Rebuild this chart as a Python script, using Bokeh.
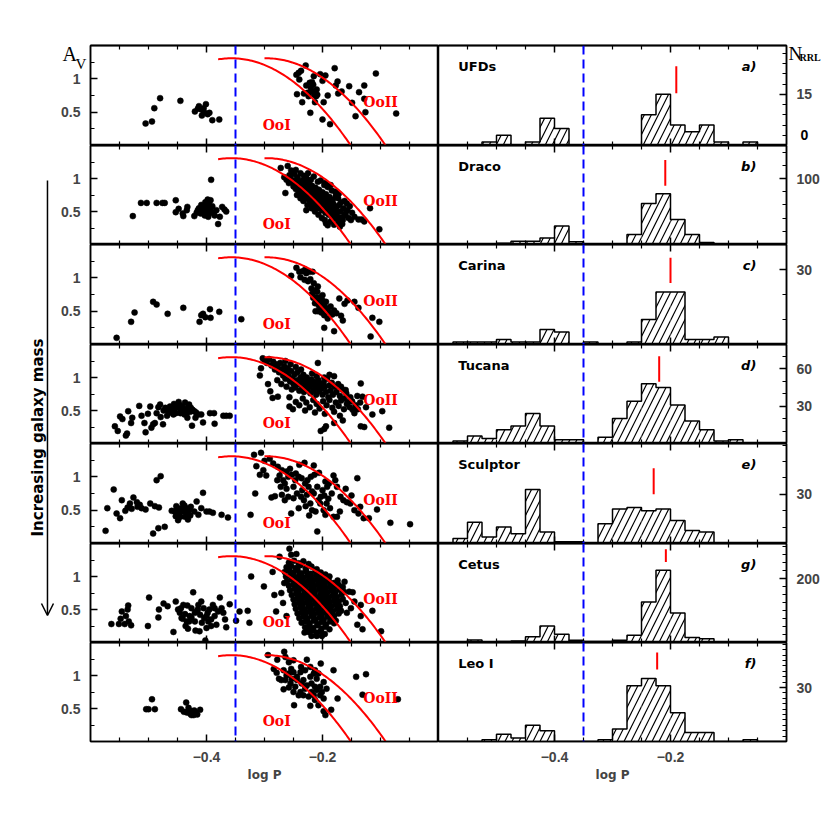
import numpy as np
from bokeh.plotting import figure
from bokeh.models import (Range1d, LinearAxis, FixedTicker, CustomJSTickFormatter,
                          Label, Span, Arrow, OpenHead)
from bokeh.layouts import row, column
from bokeh.embed import file_html
from bokeh.resources import INLINE

# ---------------- data ----------------
GALAXIES = ["UFDs", "Draco", "Carina", "Tucana", "Sculptor", "Cetus", "Leo I"]
PANEL_TAGS = ["a)", "b)", "c)", "d)", "e)", "g)", "f)"]

# (log P, A_V) pairs
ufd_pts = [(-0.505,0.33),(-0.494,0.36),(-0.49,0.56),(-0.48,0.71),(-0.445,0.67),(-0.42,0.51),(-0.415,0.55),
    (-0.413,0.59),(-0.409,0.54),(-0.405,0.56),(-0.404,0.50),(-0.401,0.62),(-0.408,0.45),(-0.398,0.47),(-0.395,0.49),
    (-0.39,0.38),(-0.378,0.39),
    (-0.244,0.77),(-0.245,1.06),(-0.241,1.09),(-0.237,1.12),(-0.229,1.2),(-0.24,0.99),(-0.235,0.65),(-0.232,0.78),
    (-0.226,0.79),(-0.222,0.94),(-0.22,0.86),(-0.218,0.81),(-0.215,1.04),(-0.216,0.91),(-0.214,0.76),(-0.221,0.49),
    (-0.211,0.74),(-0.209,0.76),(-0.213,0.65),(-0.204,1.07),(-0.2,0.97),(-0.195,1.05),(-0.198,0.65),(-0.2,0.39),
    (-0.191,0.75),(-0.187,0.32),(-0.179,1.16),(-0.177,0.9),(-0.174,0.96),(-0.173,0.78),(-0.167,0.81),(-0.154,0.89),
    (-0.149,0.64),(-0.143,0.44),(-0.137,0.8),(-0.128,0.9),(-0.128,0.7),(-0.126,0.5),(-0.108,1.08),(-0.073,0.48),
    (-0.218,0.95),(-0.21,0.84),(-0.228,0.9),(-0.224,0.74)]

dra_pts = [(-0.527,0.43),(-0.513,0.63),(-0.503,0.63),(-0.486,0.63),(-0.476,0.63),(-0.472,0.63),(-0.453,0.67),
    (-0.453,0.49),(-0.448,0.54),(-0.441,0.47),(-0.440,0.43),(-0.433,0.57),(-0.434,0.52),(-0.421,0.43),(-0.417,0.48),
    (-0.413,0.55),(-0.410,0.47),(-0.407,0.52),(-0.404,0.58),(-0.402,0.64),(-0.398,0.68),(-0.396,0.62),(-0.394,0.54),
    (-0.400,0.49),(-0.403,0.44),(-0.397,0.42),(-0.392,0.98),(-0.390,0.58),(-0.389,0.49),(-0.386,0.44),(-0.383,0.52),
    (-0.380,0.31),(-0.377,0.42),(-0.373,0.57),(-0.369,0.53),(-0.366,0.50),(-0.393,0.67),(-0.409,0.60),(-0.415,0.52),
    (-0.400,0.56),(-0.395,0.47),
    (-0.272,1.16),(-0.260,1.19),(-0.254,1.12),(-0.264,0.78),(-0.257,1.05),(-0.266,1.02),(-0.249,1.07),(-0.243,1.02),
    (-0.246,1.13),(-0.238,1.08),(-0.232,1.04),(-0.228,1.01),(-0.225,1.08),(-0.220,0.98),(-0.215,1.03),(-0.208,0.95),
    (-0.203,0.97),(-0.197,0.90),(-0.191,0.87),(-0.184,0.82),(-0.177,0.74),(-0.172,0.77),(-0.168,0.64),(-0.162,0.66),
    (-0.157,0.52),(-0.151,0.37),(-0.145,0.42),(-0.138,0.38),(-0.133,0.38),(-0.128,0.35),(-0.118,0.55),(-0.102,0.23),
    (-0.170,0.27),(-0.165,0.37),(-0.162,0.44),(-0.191,0.29),(-0.194,0.32),(-0.186,0.35),(-0.180,0.30),(-0.228,0.52),
    (-0.220,0.62),
    (-0.262,0.98),(-0.258,0.93),(-0.255,1.00),(-0.252,0.95),(-0.250,0.88),(-0.248,0.97),(-0.246,0.84),(-0.245,0.92),
    (-0.243,0.99),(-0.242,0.87),(-0.240,0.80),(-0.239,0.94),(-0.237,0.90),(-0.236,0.83),(-0.235,0.76),(-0.234,0.97),
    (-0.232,0.91),(-0.231,0.85),(-0.230,0.79),(-0.229,0.72),(-0.228,0.94),(-0.227,0.88),(-0.226,0.82),(-0.225,0.75),
    (-0.224,0.68),(-0.223,0.92),(-0.222,0.85),(-0.221,0.79),(-0.220,0.72),(-0.219,0.66),(-0.218,0.89),(-0.217,0.83),
    (-0.216,0.77),(-0.215,0.70),(-0.214,0.63),(-0.213,0.58),(-0.212,0.86),(-0.211,0.80),(-0.210,0.74),(-0.209,0.67),
    (-0.208,0.61),(-0.207,0.55),(-0.206,0.83),(-0.205,0.77),(-0.204,0.71),(-0.203,0.65),(-0.202,0.59),(-0.201,0.52),
    (-0.200,0.79),(-0.199,0.73),(-0.198,0.67),(-0.197,0.61),(-0.196,0.55),(-0.195,0.48),(-0.194,0.76),(-0.193,0.70),
    (-0.192,0.64),(-0.191,0.57),(-0.190,0.51),(-0.189,0.45),(-0.188,0.72),(-0.187,0.66),(-0.186,0.60),(-0.185,0.54),
    (-0.184,0.47),(-0.183,0.41),(-0.182,0.68),(-0.181,0.61),(-0.180,0.53),(-0.179,0.45),(-0.178,0.39),(-0.176,0.57),
    (-0.175,0.49),(-0.174,0.42),(-0.172,0.34),(-0.171,0.60),(-0.169,0.50),(-0.167,0.41),(-0.166,0.31),(-0.164,0.55),
    (-0.160,0.47),(-0.158,0.62),(-0.155,0.40),(-0.153,0.58),(-0.149,0.48),(-0.244,0.75),(-0.238,0.70),(-0.233,0.66),
    (-0.226,0.60),(-0.219,0.55),(-0.213,0.50),(-0.207,0.45),(-0.201,0.40),(-0.196,0.37),(-0.186,0.90),(-0.195,0.93),
    (-0.178,0.80),(-0.173,0.70)]

car_pts = [(-0.555,0.10),(-0.530,0.34),(-0.524,0.48),(-0.492,0.64),(-0.486,0.60),(-0.467,0.46),(-0.440,0.55),
    (-0.412,0.34),(-0.409,0.44),(-0.406,0.46),(-0.402,0.41),(-0.394,0.53),(-0.393,0.40),(-0.378,0.49),(-0.340,0.38),
    (-0.254,1.03),(-0.245,1.15),(-0.240,1.09),(-0.234,1.10),(-0.228,1.07),(-0.223,1.09),(-0.217,1.09),(-0.225,0.95),
    (-0.238,1.01),(-0.219,0.84),(-0.214,0.81),(-0.209,0.79),(-0.211,0.71),(-0.207,0.68),(-0.205,0.64),(-0.203,0.71),
    (-0.200,0.66),(-0.197,0.59),(-0.194,0.64),(-0.191,0.54),(-0.203,0.56),(-0.208,0.50),(-0.212,0.50),(-0.197,0.44),
    (-0.191,0.39),(-0.180,0.51),(-0.183,0.45),(-0.171,0.69),(-0.162,0.61),(-0.157,0.66),(-0.145,0.64),(-0.138,0.55),
    (-0.168,0.43),(-0.165,0.36),(-0.197,0.25),(-0.180,0.20),(-0.114,0.40),(-0.102,0.34),(-0.117,0.12),(-0.215,0.92),
    (-0.208,0.87),(-0.218,0.76),(-0.213,0.62),(-0.200,0.74),(-0.221,0.98),(-0.230,1.12),(-0.206,0.58),(-0.199,0.52),
    (-0.188,0.48),(-0.186,0.57),(-0.176,0.47),(-0.231,0.97),(-0.216,0.70),(-0.210,0.62),(-0.202,0.48)]

tuc_pts = [(-0.558,0.26),(-0.553,0.19),(-0.549,0.41),(-0.545,0.37),(-0.539,0.12),(-0.537,0.15),(-0.535,0.49),
    (-0.528,0.39),(-0.516,0.57),(-0.507,0.31),(-0.505,0.17),(-0.501,0.45),(-0.497,0.56),(-0.495,0.24),(-0.492,0.29),
    (-0.489,0.31),(-0.486,0.46),(-0.483,0.55),(-0.480,0.59),(-0.479,0.40),(-0.475,0.29),(-0.471,0.54),(-0.466,0.49),
    (-0.463,0.56),(-0.460,0.52),(-0.456,0.60),(-0.453,0.46),(-0.450,0.54),(-0.448,0.63),(-0.444,0.49),(-0.442,0.56),
    (-0.438,0.44),(-0.436,0.51),(-0.433,0.39),(-0.430,0.59),(-0.427,0.54),(-0.425,0.27),(-0.421,0.49),(-0.419,0.39),
    (-0.414,0.44),(-0.409,0.44),(-0.406,0.32),(-0.394,0.46),(-0.387,0.46),(-0.386,0.30),(-0.371,0.42),(-0.366,0.42),
    (-0.360,0.42),(-0.461,0.47),(-0.457,0.44),(-0.451,0.57),(-0.440,0.52),(-0.434,0.46),(-0.445,0.46),(-0.428,0.48),
    (-0.455,0.53),(-0.468,0.42),(-0.530,0.31),(-0.512,0.42),(-0.474,0.50),(-0.446,0.58),(-0.432,0.55),(-0.424,0.51),
    (-0.418,0.47),(-0.437,0.62),
    (-0.300,1.26),(-0.296,1.22),(-0.292,1.28),(-0.288,1.18),(-0.285,1.24),(-0.282,1.12),(-0.280,1.20),(-0.277,1.15),
    (-0.275,1.08),(-0.273,1.22),(-0.270,1.12),(-0.268,1.03),(-0.266,1.17),(-0.264,0.98),(-0.262,1.08),(-0.260,1.14),
    (-0.258,1.02),(-0.256,0.94),(-0.254,1.10),(-0.252,0.98),(-0.250,0.90),(-0.248,1.05),(-0.247,0.85),(-0.245,0.96),
    (-0.243,1.08),(-0.241,0.90),(-0.240,0.80),(-0.238,1.00),(-0.236,0.93),(-0.235,0.85),(-0.233,1.04),(-0.232,0.78),
    (-0.230,0.96),(-0.229,0.88),(-0.227,1.00),(-0.226,0.82),(-0.224,0.92),(-0.222,0.86),(-0.221,0.76),(-0.219,0.97),
    (-0.217,0.89),(-0.216,0.80),(-0.214,0.93),(-0.212,0.84),(-0.211,0.74),(-0.209,0.88),(-0.207,0.96),(-0.206,0.79),
    (-0.204,0.90),(-0.202,0.83),(-0.200,0.74),(-0.198,0.92),(-0.196,0.86),(-0.194,0.78),(-0.192,0.98),(-0.190,0.70),
    (-0.188,0.88),(-0.186,0.80),(-0.184,0.92),(-0.182,0.74),(-0.179,0.86),(-0.176,0.78),(-0.173,0.90),(-0.170,0.72),
    (-0.166,0.82),(-0.163,0.68),(-0.159,0.76),(-0.156,0.63),(-0.152,0.70),(-0.264,1.25),(-0.255,1.20),(-0.246,1.16),
    (-0.237,1.12),(-0.218,1.06),(-0.210,1.02),(-0.197,1.00),(-0.278,0.96),(-0.271,0.90),(-0.262,0.86),(-0.253,0.82),
    (-0.246,0.63),(-0.240,0.58),(-0.234,0.68),(-0.228,0.62),(-0.222,0.55),(-0.216,0.66),(-0.210,0.60),(-0.205,0.53),
    (-0.199,0.64),(-0.193,0.58),(-0.188,0.66),(-0.183,0.54),(-0.177,0.62),(-0.172,0.57),(-0.168,0.65),(-0.163,0.52),
    (-0.158,0.60),(-0.153,0.55),(-0.149,0.64),(-0.143,0.58),(-0.139,0.52),(-0.135,0.62),(-0.230,0.50),(-0.213,0.47),
    (-0.196,0.45),(-0.180,0.48),(-0.170,0.42),(-0.257,0.70),(-0.251,0.52),
    (-0.308,1.03),(-0.306,1.14),(-0.303,1.29),(-0.294,0.90),(-0.290,0.79),(-0.286,0.69),(-0.277,0.71),(-0.257,0.56),
    (-0.145,0.46),(-0.134,0.91),(-0.131,0.71),(-0.134,0.26),(-0.128,0.25),(-0.114,0.44),(-0.097,0.49),(-0.085,0.24),
    (-0.203,0.19),(-0.197,0.22),(-0.194,0.26),(-0.180,0.31),(-0.165,0.35),(-0.208,1.22),(-0.188,1.04),(-0.180,1.02),
    (-0.168,0.86),(-0.160,0.81),(-0.148,0.51),(-0.125,0.55),(-0.140,0.72)]

scl_pts = [(-0.574,0.19),(-0.571,0.53),(-0.560,0.81),(-0.555,0.45),(-0.549,0.38),(-0.546,0.65),(-0.536,0.54),
    (-0.532,0.60),(-0.529,0.52),(-0.526,0.69),(-0.519,0.55),(-0.515,0.58),(-0.512,0.53),(-0.497,0.60),(-0.492,0.15),
    (-0.489,0.56),(-0.486,0.95),(-0.483,0.23),(-0.482,0.54),(-0.479,1.01),(-0.472,0.25),(-0.460,0.49),(-0.455,0.48),
    (-0.453,0.41),(-0.450,0.53),(-0.449,0.35),(-0.447,0.45),(-0.444,0.50),(-0.441,0.60),(-0.439,0.48),(-0.437,0.40),
    (-0.435,0.53),(-0.433,0.45),(-0.430,0.50),(-0.427,0.55),(-0.421,0.48),(-0.417,0.63),(-0.414,0.43),(-0.409,0.53),
    (-0.406,0.76),(-0.400,0.48),(-0.395,0.48),(-0.389,0.46),(-0.374,0.43),(-0.363,0.39),(-0.452,0.56),(-0.445,0.40),
    (-0.438,0.57),(-0.428,0.42),(-0.443,0.53),(-0.432,0.36),(-0.520,0.62),(-0.540,0.49),(-0.505,0.51),
    (-0.324,0.43),(-0.316,0.75),(-0.318,1.33),(-0.306,1.36),(-0.314,1.16),(-0.308,1.03),(-0.302,1.10),(-0.297,1.02),
    (-0.288,0.69),(-0.282,0.71),(-0.278,0.95),(-0.274,1.02),(-0.268,0.95),(-0.265,0.90),(-0.259,1.00),(-0.253,1.03),
    (-0.250,0.85),(-0.247,0.95),(-0.241,1.00),(-0.235,0.80),(-0.230,0.90),(-0.224,0.85),(-0.218,0.78),(-0.215,0.75),
    (-0.207,0.65),(-0.204,0.60),(-0.198,0.50),(-0.195,0.43),(-0.192,0.85),(-0.189,0.90),(-0.181,1.02),(-0.175,0.85),
    (-0.169,0.70),(-0.164,0.65),(-0.158,0.62),(-0.152,0.60),(-0.140,0.98),(-0.135,0.55),(-0.129,0.38),(-0.120,0.38),
    (-0.106,0.51),(-0.083,0.31),(-0.049,0.29),(-0.209,0.18),(-0.259,0.70),(-0.265,0.65),(-0.270,0.73),(-0.250,0.68),
    (-0.241,0.53),(-0.254,0.45),(-0.232,0.65),(-0.227,0.73),(-0.221,0.60),(-0.218,0.50),(-0.212,0.48),(-0.193,0.60),
    (-0.187,0.53),(-0.181,0.40),(-0.175,0.40),(-0.170,0.48),(-0.240,1.18),(-0.231,1.21),(-0.215,1.17),(-0.214,1.03),
    (-0.206,1.06),(-0.195,0.93),(-0.300,1.24),(-0.291,1.27),(-0.285,1.20),(-0.277,1.15),(-0.270,1.10),(-0.262,1.08),
    (-0.256,1.12),(-0.246,1.05),(-0.236,0.98),(-0.226,0.95),(-0.220,1.00),(-0.209,0.85),(-0.200,0.80),(-0.184,0.75),
    (-0.178,0.95),(-0.160,0.82),(-0.150,0.72),(-0.145,0.50),(-0.138,0.45),(-0.244,0.75),(-0.237,0.70),(-0.229,0.56),
    (-0.223,0.42),(-0.203,0.70),(-0.197,0.72),(-0.190,0.67),(-0.262,0.82),(-0.272,0.85)]

cet_pts = [(-0.564,0.28),(-0.551,0.28),(-0.548,0.36),(-0.546,0.47),(-0.541,0.28),(-0.539,0.40),(-0.536,0.50),
    (-0.535,0.56),(-0.534,0.32),(-0.530,0.26),(-0.501,0.25),(-0.499,0.68),(-0.483,0.38),(-0.482,0.50),(-0.474,0.59),
    (-0.467,0.55),(-0.457,0.16),(-0.453,0.62),(-0.449,0.50),(-0.446,0.45),(-0.443,0.37),(-0.440,0.57),(-0.437,0.43),
    (-0.434,0.32),(-0.432,0.21),(-0.429,0.40),(-0.426,0.52),(-0.423,0.76),(-0.420,0.32),(-0.419,0.18),(-0.417,0.47),
    (-0.414,0.57),(-0.411,0.42),(-0.408,0.30),(-0.405,0.52),(-0.404,0.37),(-0.402,0.03),(-0.400,0.22),(-0.398,0.45),
    (-0.395,0.50),(-0.392,0.35),(-0.389,0.57),(-0.386,0.40),(-0.383,0.27),(-0.380,0.47),(-0.377,0.68),(-0.374,0.52),
    (-0.371,0.45),(-0.368,0.35),(-0.366,0.23),(-0.360,0.58),(-0.441,0.36),(-0.436,0.25),(-0.430,0.32),(-0.420,0.45),
    (-0.412,0.17),(-0.400,0.40),(-0.392,0.25),(-0.415,0.50),(-0.426,0.38),(-0.409,0.62),(-0.397,0.32),(-0.386,0.52),
    (-0.444,0.52),(-0.433,0.56),(-0.349,0.33),(-0.343,0.47),(-0.329,0.48),(-0.326,0.30),(-0.323,1.00),(-0.301,0.85),
    (-0.280,0.47),
    (-0.258,1.21),(-0.249,1.24),(-0.241,1.20),(-0.233,1.23),(-0.224,1.19),
    (-0.262,1.14),(-0.254,1.16),(-0.246,1.13),(-0.238,1.17),(-0.229,1.12),(-0.219,1.15),(-0.210,1.11),
    (-0.265,1.07),(-0.257,1.09),(-0.250,1.06),(-0.243,1.10),(-0.236,1.05),(-0.228,1.08),(-0.220,1.04),(-0.212,1.09),
    (-0.203,1.06),(-0.195,1.03),
    (-0.263,1.00),(-0.255,1.02),(-0.247,0.99),(-0.240,1.03),(-0.233,0.98),(-0.226,1.01),(-0.219,0.97),(-0.211,1.02),
    (-0.204,0.99),(-0.196,0.96),(-0.188,1.00),
    (-0.261,0.93),(-0.253,0.95),(-0.245,0.92),(-0.238,0.96),(-0.231,0.91),(-0.224,0.94),(-0.217,0.90),(-0.210,0.95),
    (-0.203,0.92),(-0.196,0.89),(-0.189,0.93),(-0.181,0.90),(-0.174,0.94),
    (-0.258,0.86),(-0.250,0.88),(-0.243,0.85),(-0.236,0.89),(-0.229,0.84),(-0.222,0.87),(-0.215,0.83),(-0.208,0.88),
    (-0.201,0.85),(-0.194,0.82),(-0.187,0.86),(-0.180,0.83),(-0.172,0.87),(-0.165,0.84),
    (-0.256,0.79),(-0.248,0.81),(-0.241,0.78),(-0.234,0.82),(-0.227,0.77),(-0.220,0.80),(-0.213,0.76),(-0.206,0.81),
    (-0.199,0.78),(-0.192,0.75),(-0.185,0.79),(-0.178,0.76),(-0.170,0.80),(-0.163,0.77),
    (-0.253,0.72),(-0.245,0.74),(-0.238,0.71),(-0.231,0.75),(-0.224,0.70),(-0.217,0.73),(-0.210,0.69),(-0.203,0.74),
    (-0.196,0.71),(-0.189,0.68),(-0.182,0.72),(-0.175,0.69),(-0.167,0.73),
    (-0.250,0.65),(-0.243,0.67),(-0.236,0.64),(-0.229,0.68),(-0.222,0.63),(-0.215,0.66),(-0.208,0.62),(-0.201,0.67),
    (-0.194,0.64),(-0.187,0.61),(-0.180,0.65),(-0.172,0.62),(-0.165,0.66),
    (-0.248,0.58),(-0.241,0.60),(-0.234,0.57),(-0.227,0.61),(-0.220,0.56),(-0.213,0.59),(-0.206,0.55),(-0.199,0.60),
    (-0.192,0.57),(-0.185,0.54),(-0.178,0.58),(-0.170,0.55),
    (-0.246,0.51),(-0.238,0.53),(-0.231,0.50),(-0.224,0.54),(-0.217,0.49),(-0.210,0.52),(-0.203,0.48),(-0.196,0.53),
    (-0.189,0.50),(-0.182,0.47),(-0.175,0.51),(-0.168,0.48),
    (-0.243,0.44),(-0.236,0.46),(-0.229,0.43),(-0.222,0.47),(-0.215,0.42),(-0.208,0.45),(-0.201,0.41),(-0.194,0.46),
    (-0.187,0.43),(-0.180,0.40),(-0.172,0.44),
    (-0.240,0.37),(-0.233,0.39),(-0.226,0.36),(-0.219,0.40),(-0.212,0.35),(-0.205,0.38),(-0.198,0.34),(-0.191,0.39),
    (-0.184,0.36),(-0.177,0.33),
    (-0.236,0.30),(-0.229,0.32),(-0.222,0.29),(-0.215,0.33),(-0.208,0.28),(-0.201,0.31),(-0.194,0.27),(-0.187,0.32),
    (-0.180,0.29),
    (-0.230,0.23),(-0.223,0.25),(-0.216,0.22),(-0.209,0.26),(-0.202,0.21),(-0.195,0.24),(-0.188,0.20),
    (-0.224,0.16),(-0.217,0.18),(-0.210,0.15),(-0.203,0.17),(-0.196,0.13),
    (-0.286,1.07),(-0.274,1.30),(-0.257,1.42),(-0.254,1.33),(-0.245,1.34),(-0.271,0.75),(-0.266,0.90),(-0.162,0.92),
    (-0.154,0.77),(-0.148,0.76),(-0.151,0.52),(-0.134,0.57),(-0.131,0.20),(-0.114,0.48),(-0.099,0.17),(-0.134,0.40),
    (-0.140,0.27),(-0.225,0.20),(-0.219,0.10),(-0.210,0.10),(-0.201,0.10),(-0.231,0.15),(-0.283,0.72),(-0.160,0.60),
    (-0.158,0.45),(-0.145,0.62),(-0.268,0.60),(-0.262,0.40)]

leo_pts = [(-0.504,0.49),(-0.500,0.49),(-0.494,0.64),(-0.489,0.49),(-0.444,0.49),(-0.439,0.45),(-0.435,0.59),
    (-0.434,0.44),(-0.431,0.51),(-0.428,0.42),(-0.425,0.46),(-0.422,0.40),(-0.419,0.44),(-0.416,0.41),(-0.411,0.48),
    (-0.430,0.47),(-0.426,0.40),(-0.421,0.47),
    (-0.294,1.31),(-0.278,1.24),(-0.266,1.36),(-0.264,1.28),(-0.258,1.20),(-0.250,1.23),(-0.284,1.10),(-0.279,1.04),
    (-0.275,0.95),(-0.271,0.93),(-0.267,1.08),(-0.262,1.00),(-0.258,1.03),(-0.254,1.10),(-0.250,1.05),(-0.244,0.98),
    (-0.238,1.05),(-0.233,0.93),(-0.227,1.24),(-0.221,1.13),(-0.215,1.03),(-0.210,0.95),(-0.207,1.03),(-0.203,1.18),
    (-0.181,1.08),(-0.174,0.65),(-0.142,0.98),(-0.131,0.71),(-0.125,1.02),(-0.070,0.64),(-0.249,0.55),(-0.221,0.54),
    (-0.213,0.63),(-0.198,0.46),(-0.195,0.40),(-0.185,0.48),(-0.207,0.55),(-0.267,0.79),(-0.255,0.88),(-0.247,0.83),
    (-0.238,0.75),(-0.233,0.70),(-0.224,0.68),(-0.215,0.70),(-0.210,0.78),(-0.204,0.83),(-0.201,0.75),
    (-0.237,1.13),(-0.230,1.08),(-0.221,0.98),(-0.227,0.85),(-0.236,0.88),(-0.244,0.93),(-0.219,0.88),(-0.213,0.83),
    (-0.198,0.65),(-0.204,0.70),(-0.219,0.75),(-0.230,0.80),(-0.241,0.70),(-0.250,0.75),(-0.258,0.82),(-0.264,0.93),
    (-0.253,0.95),(-0.213,1.08),(-0.198,0.90),(-0.193,0.80)]

SCATTER = [ufd_pts, dra_pts, car_pts, tuc_pts, scl_pts, cet_pts, leo_pts]

# histogram counts, bins of 0.025 in log P from -0.6 to 0.0
BIN_WIDTH = 0.025
ufd_counts = [0,0,0,1,3,0,1,8,5,0,0,0,0,0,9,15,6,4,6,1,0,1,0,0]
dra_counts = [0,0,1,1,2,5,5,10,28,4,0,0,0,15,62,77,38,15,3,0,0,0,0,0]
car_counts = [0,1,1,1,2,1,1,6,5,0,1,0,0,1,10,21,21,2,2,3,0,0,0,0]
tuc_counts = [0,2,6,4,11,14,24,14,3,3,0,5,20,34,48,45,31,18,11,2,3,0,0,0]
scl_counts = [0,3,13,4,10,6,33,7,1,1,0,12,21,22,20,21,14,8,7,0,0,0,0,0]
cet_counts = [0,0,8,0,3,5,18,52,26,7,3,3,7,23,127,226,92,16,12,2,0,0,0,0]
leo_counts = [0,0,0,1,4,2,9,6,0,0,0,1,7,31,35,31,16,5,5,0,0,1,0,0]
COUNTS = [ufd_counts, dra_counts, car_counts, tuc_counts, scl_counts, cet_counts, leo_counts]

HIST_YMAX = [29.3, 150, 40, 79.5, 61, 310, 55]
HIST_MAJOR = [[15], [100], [30], [30, 60], [30], [200], [30]]
HIST_MINOR_STEP = [3, 20, 10, 10, 10, 25, 3]
ZERO_LABEL = "0"

# mean-period markers (red ticks)
MARK_P = [-0.190, -0.209, -0.200, -0.2195, -0.229, -0.208, -0.223]
MARK_LO = [15.3, 89, 24.6, 49.5, 30, 252, 40]
MARK_HI = [23.2, 128, 34.7, 70, 45.9, 292, 49.5]

# Oosterhoff relations (Cacciari et al. 2005): A_V = c0 + c1 logP + c2 logP^2, OoII shifted by 0.06
OO_COEF = (-2.627, -22.046, -30.876)
OO_SHIFT = 0.06
OO1_SPAN = (-0.38, -0.15)
OO2_SPAN = (-0.30, -0.09)
LOGP_DIVIDE = -0.35

X_MAJOR = [-0.4, -0.2]
X_MINOR = [-0.55, -0.5, -0.45, -0.35, -0.3, -0.25, -0.15, -0.1, -0.05]
AV_MAJOR = [0.5, 1.0]
AV_MINOR = [0.25, 0.75, 1.25]

# ---------------- layout constants ----------------
X_LO, X_HI = -0.6, 0.0
AV_MAX = 1.5
FRAME_W = 348
FRAME_H = [100, 99, 100, 99, 100, 99, 99]
STRIP_W = 58
LEFT_B = 32
RIGHT_B = 38
TOP_B = 45
BOTTOM_B = 48

def fmt():
    return CustomJSTickFormatter(code="""
        const a = Math.abs(tick);
        const s = (Math.abs(a - Math.round(a)) < 1e-9) ? a.toFixed(0) : a.toFixed(1);
        return (tick < -1e-9 ? "\u2212" : "") + s;
    """)

def style_common(ax):
    ax.axis_line_width = 1.5
    ax.axis_line_color = "black"
    ax.major_tick_out = 0
    ax.minor_tick_out = 0

def add_label_axis(p, loc, ticks, minor, axis_label=None):
    ax = LinearAxis(ticker=FixedTicker(ticks=ticks, minor_ticks=minor))
    style_common(ax)
    ax.major_tick_in = 7
    ax.minor_tick_in = 4
    ax.major_tick_line_width = 1.5
    ax.minor_tick_line_width = 1.2
    ax.formatter = fmt()
    ax.major_label_text_font = "Liberation Sans"
    ax.major_label_text_font_style = "bold"
    ax.major_label_text_font_size = "14px"
    ax.major_label_standoff = 10
    if axis_label:
        ax.axis_label = axis_label
        ax.axis_label_text_font = "DejaVu Sans"
        ax.axis_label_text_font_style = "bold"
        ax.axis_label_text_font_size = "12px"
        ax.axis_label_standoff = 3
    p.add_layout(ax, loc)

def add_tick_axis(p, loc, major, minor):
    # tick marks only: two layers of unlabelled ticks (short and long)
    for ticks, ln, lw in ((minor, 4, 1.2), (major, 7, 1.5)):
        ax = LinearAxis(ticker=FixedTicker(ticks=[], minor_ticks=ticks))
        style_common(ax)
        ax.major_tick_in = 0
        ax.minor_tick_in = ln
        ax.minor_tick_line_width = lw
        ax.major_label_standoff = 0
        p.add_layout(ax, loc)

def base_fig(w, h, bl, br, bt, bb, ymax):
    p = figure(width=w, height=h, x_range=Range1d(X_LO, X_HI), y_range=Range1d(0, ymax),
               x_axis_location=None, y_axis_location=None,
               min_border_left=bl, min_border_right=br, min_border_top=bt, min_border_bottom=bb,
               output_backend="svg", toolbar_location=None)
    p.xgrid.visible = False
    p.ygrid.visible = False
    p.outline_line_color = "black"
    p.outline_line_width = 1.5
    p.background_fill_color = "white"
    p.border_fill_color = "white"
    return p

def make_label(x, y, text, font="DejaVu Sans", size="13px", style="bold", color="black",
               align="left", baseline="middle", angle=0, units="data"):
    return Label(x=x, y=y, text=text, text_font=font, text_font_size=size,
                 text_font_style=style, text_color=color, text_align=align,
                 text_baseline=baseline, angle=angle, x_units=units, y_units=units)

def label(p, *args, place="center", **kw):
    p.add_layout(make_label(*args, **kw), place)

def oo_curve(span, shift):
    lp = np.linspace(span[0], span[1], 80)
    q = lp - shift
    return lp, OO_COEF[0] + OO_COEF[1] * q + OO_COEF[2] * q ** 2

edges = [round(X_LO + BIN_WIDTH * i, 4) for i in range(len(ufd_counts) + 1)]

rows = []
n = len(GALAXIES)
for i in range(n):
    fh = FRAME_H[i]
    bt = TOP_B if i == 0 else 0
    bb = BOTTOM_B if i == n - 1 else 0
    h = fh + bt + bb
    last = (i == n - 1)

    # ---- left: A_V vs log P ----
    L = base_fig(LEFT_B + FRAME_W, h, LEFT_B, 0, bt, bb, AV_MAX)
    add_label_axis(L, "left", AV_MAJOR, AV_MINOR)
    add_tick_axis(L, "above", X_MAJOR, X_MINOR)
    if last:
        add_label_axis(L, "below", X_MAJOR, X_MINOR, "log P")
    else:
        add_tick_axis(L, "below", X_MAJOR, X_MINOR)
    pts = SCATTER[i]
    L.scatter([q[0] for q in pts], [q[1] for q in pts], size=6, fill_color="black",
              line_color="black", line_width=0.5)
    x1, y1 = oo_curve(OO1_SPAN, 0.0)
    x2, y2 = oo_curve(OO2_SPAN, OO_SHIFT)
    L.line(x1, y1, line_color="red", line_width=2)
    L.line(x2, y2, line_color="red", line_width=2)
    L.add_layout(Span(location=LOGP_DIVIDE, dimension="height", line_color="blue",
                      line_dash="9 5", line_width=2))
    label(L, -0.279, 0.315, "OoI", font="DejaVu Serif", size="14px", color="red", align="center")
    label(L, -0.100, 0.655, "OoII", font="DejaVu Serif", size="14px", color="red", align="center")
    if i == 0:
        # side-panel labels (not clipped to the frame); first one sits next to the frame
        label(L, -15, -18, "V", font="Liberation Serif", size="15px", style="normal",
              baseline="alphabetic", units="screen", place="above")
        label(L, -28, -24, "A", font="Liberation Serif", size="20px", style="normal",
              baseline="alphabetic", units="screen", place="above")

    # ---- right: histogram of log P ----
    ymax = HIST_YMAX[i]
    R = base_fig(FRAME_W + RIGHT_B, h, 0, RIGHT_B, bt, bb, ymax)
    step = HIST_MINOR_STEP[i]
    minor = [v for v in np.arange(step, ymax, step).round(3).tolist() if v not in HIST_MAJOR[i]]
    add_label_axis(R, "right", HIST_MAJOR[i], minor)
    add_tick_axis(R, "above", X_MAJOR, X_MINOR)
    if last:
        add_label_axis(R, "below", X_MAJOR, X_MINOR, "log P")
    else:
        add_tick_axis(R, "below", X_MAJOR, X_MINOR)
    cnt = COUNTS[i]
    R.quad(left=edges[:-1], right=edges[1:], bottom=0, top=cnt, fill_alpha=0, line_color=None,
           hatch_pattern="/", hatch_color="black", hatch_scale=14, hatch_weight=1.2)
    R.step([edges[0]] + edges, [0] + cnt + [0], mode="after", line_color="black", line_width=1.5)
    R.segment(x0=[MARK_P[i]], y0=[MARK_LO[i]], x1=[MARK_P[i]], y1=[MARK_HI[i]],
              line_color="red", line_width=2)
    R.add_layout(Span(location=LOGP_DIVIDE, dimension="height", line_color="blue",
                      line_dash="9 5", line_width=2))
    yl = ymax * (1 - 21 / fh)
    label(R, -0.566, yl, GALAXIES[i], size="13px")
    label(R, -0.052, yl, PANEL_TAGS[i], size="13px", style="bold italic", align="right")
    if i == 0:
        label(R, FRAME_W + 13, -12, "RRL", font="Liberation Serif", size="10px", style="bold",
              baseline="alphabetic", units="screen", place="above")
        label(R, FRAME_W + 2, -19, "N", font="Liberation Serif", size="19px", style="normal",
              baseline="alphabetic", units="screen", place="above")
        label(R, -15, 11, ZERO_LABEL, font="Liberation Sans", size="14px", style="bold",
              baseline="alphabetic", units="screen", place="right")
    rows.append(row(L, R))

# ---- strip with the galaxy-mass arrow ----
total_h = sum(FRAME_H) + TOP_B + BOTTOM_B
S = figure(width=STRIP_W, height=total_h, x_range=Range1d(0, 1), y_range=Range1d(0, 1),
           x_axis_location=None, y_axis_location=None, min_border=0,
           output_backend="svg", toolbar_location=None)
S.xgrid.visible = False
S.ygrid.visible = False
S.outline_line_color = None
S.add_layout(Arrow(end=OpenHead(size=12, line_width=1.5, line_color="black"),
                   x_start=0.81, y_start=1 - 180 / total_h, x_end=0.81, y_end=1 - 615 / total_h,
                   line_width=1.5, line_color="black"))
label(S, 0.64, 1 - 437 / total_h, "Increasing galaxy mass", size="15px", align="center",
      angle=np.pi / 2)

layout = row(S, column(*rows))
open("out.html", "w").write(file_html(layout, INLINE))
